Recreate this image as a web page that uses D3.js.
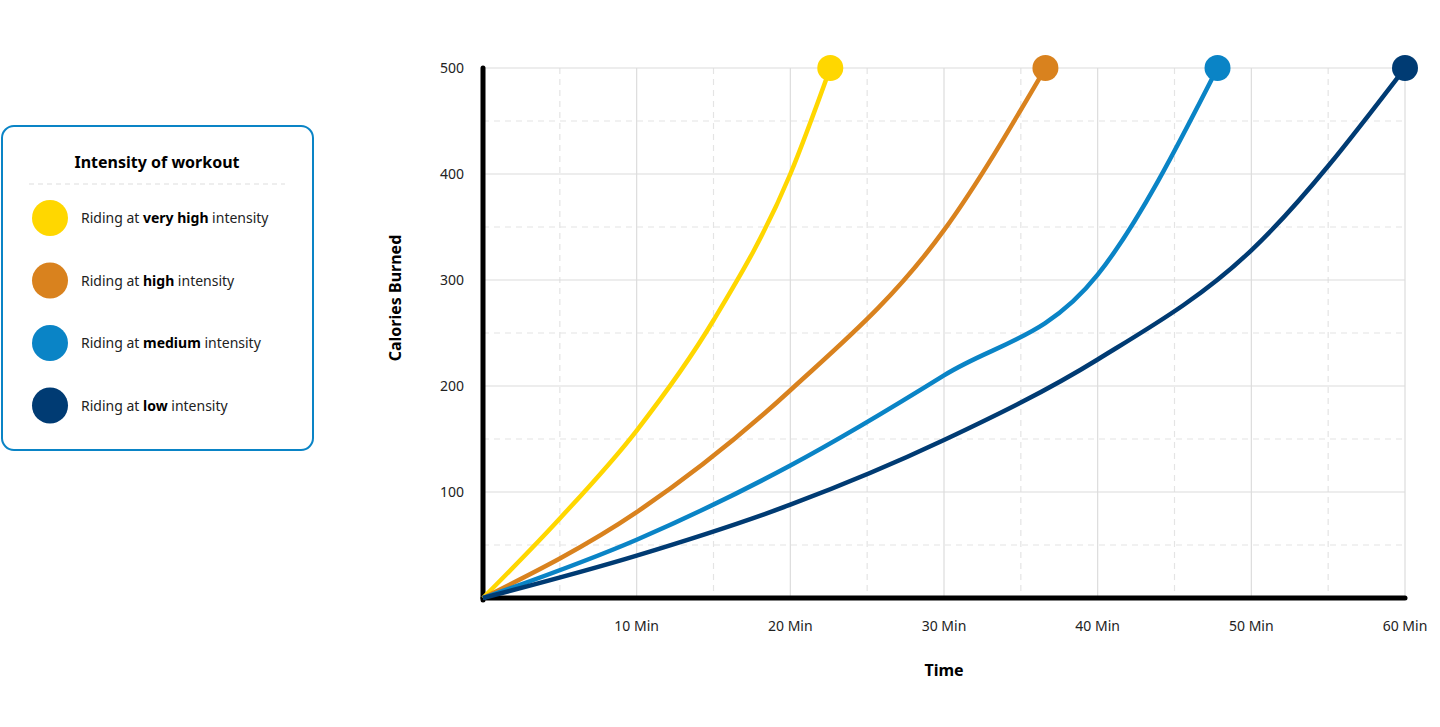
<!DOCTYPE html>
<html><head><meta charset="utf-8">
<script src="https://cdn.jsdelivr.net/npm/d3@7"></script>
<style>body{margin:0;background:#fff;font-family:"Noto Sans",sans-serif;}</style>
</head><body><svg id="c" width="1440" height="727"></svg>
<script>
const seriesNames = ["very high", "high", "medium", "low"];
const seriesColors = ["#ffd700", "#d9821e", "#0a84c6", "#003b73"];
const veryHigh = [[0,0],[5,75],[10,158],[15,262],[20,400],[22.6,500]];
const high = [[0,0],[10,81],[20,196],[30,347],[36.6,500]];
const medium = [[0,0],[10,55],[20,125],[30,210],[40,305],[47.8,500]];
const low = [[0,0],[10,40],[20,88],[30,149],[40,225],[50,328],[60,500]];
const xTicks = [10,20,30,40,50,60];
const yTicks = [100,200,300,400,500];

const svg = d3.select("#c");
const x = d3.scaleLinear().domain([0,60]).range([483,1405]);
const y = d3.scaleLinear().domain([0,500]).range([598,68]);

// grid
const g = svg.append("g");
d3.range(5,61,5).forEach(v => g.append("line").attr("x1",x(v)).attr("x2",x(v)).attr("y1",y(500)).attr("y2",y(0))
  .attr("stroke", v%10 ? "#e4e4e4" : "#dcdcdc").attr("stroke-width",1.2).attr("stroke-dasharray", v%10 ? "6,5" : null));
d3.range(50,501,50).forEach(v => g.append("line").attr("x1",x(0)).attr("x2",x(60)).attr("y1",y(v)).attr("y2",y(v))
  .attr("stroke", v%100 ? "#e4e4e4" : "#dcdcdc").attr("stroke-width",1.2).attr("stroke-dasharray", v%100 ? "6,5" : null));

// axes
svg.append("line").attr("x1",x(0)).attr("x2",x(0)).attr("y1",y(500)).attr("y2",y(0)+2)
  .attr("stroke","#000").attr("stroke-width",5).attr("stroke-linecap","round");
svg.append("line").attr("x1",x(0)).attr("x2",x(60)).attr("y1",y(0)).attr("y2",y(0))
  .attr("stroke","#000").attr("stroke-width",5).attr("stroke-linecap","round");
yTicks.forEach(v => svg.append("text").attr("x",464).attr("y",y(v)+5).attr("text-anchor","end")
  .attr("font-size",14).attr("fill","#222").text(v));
xTicks.forEach(v => svg.append("text").attr("x",x(v)).attr("y",631).attr("text-anchor","middle")
  .attr("font-size",14).attr("fill","#222").text(v + " Min"));
svg.append("text").attr("x",944).attr("y",676).attr("text-anchor","middle").attr("font-size",16)
  .attr("font-weight","bold").text("Time");
svg.append("text").attr("transform","translate(401,298) rotate(-90)").attr("text-anchor","middle")
  .attr("font-size",16).attr("font-weight","bold").text("Calories Burned");

// lines
const line = d3.line().x(d => x(d[0])).y(d => y(d[1])).curve(d3.curveMonotoneX);
[veryHigh, high, medium, low].forEach((s, i) => {
  svg.append("path").attr("d", line(s)).attr("fill","none").attr("stroke",seriesColors[i]).attr("stroke-width",4.5);
  const last = s[s.length-1];
  svg.append("circle").attr("cx",x(last[0])).attr("cy",y(last[1])).attr("r",13).attr("fill",seriesColors[i]);
});

// legend
const L = svg.append("g");
L.append("rect").attr("x",2).attr("y",126).attr("width",311).attr("height",324).attr("rx",12)
  .attr("fill","#fff").attr("stroke","#0a84c6").attr("stroke-width",2);
L.append("text").attr("x",157).attr("y",168).attr("text-anchor","middle").attr("font-size",16)
  .attr("font-weight","bold").text("Intensity of workout");
L.append("line").attr("x1",29).attr("x2",285).attr("y1",184).attr("y2",184).attr("stroke","#ddd").attr("stroke-dasharray","5,4");
seriesNames.forEach((n, i) => {
  const cy = 218 + i*62.5;
  L.append("circle").attr("cx",50).attr("cy",cy).attr("r",18).attr("fill",seriesColors[i]);
  const t = L.append("text").attr("x",81).attr("y",cy+5).attr("font-size",14).attr("fill","#222");
  t.append("tspan").text("Riding at ");
  t.append("tspan").attr("font-weight","bold").attr("fill","#000").text(n);
  t.append("tspan").text(" intensity");
});
</script></body></html>
